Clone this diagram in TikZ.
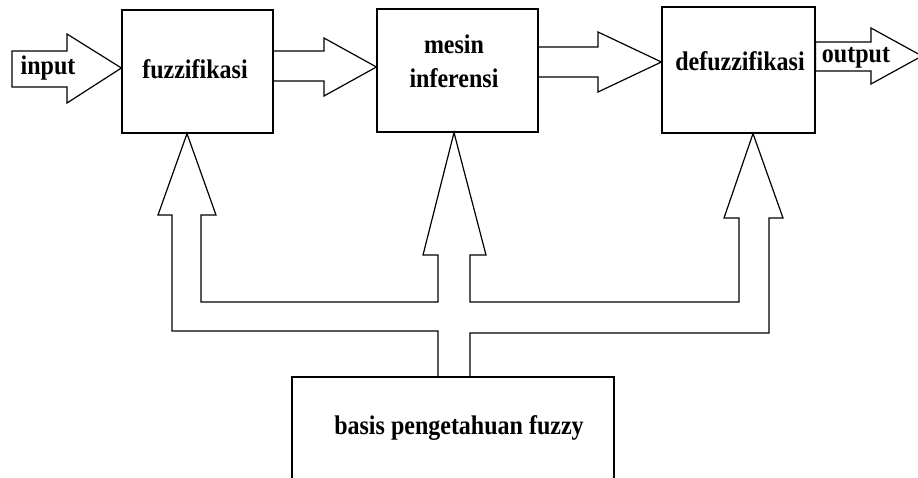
\documentclass[tikz,border=0pt]{standalone}
\usepackage{fontspec}
\usepackage{graphicx}
\setmainfont{Liberation Serif}
\newcommand{\tinggi}[1]{\scalebox{1}[1.12]{#1}}
\begin{document}
\begin{tikzpicture}[x=1pt,y=-1pt,
    blok/.style={draw, line width=1.2pt, inner sep=0pt, fill=white},
    panah/.style={draw, line width=1.2pt, line join=miter},
    teks/.style={font=\fontsize{24}{30}\selectfont\bfseries, inner sep=0pt, align=center}]
    \useasboundingbox (0,0) rectangle (918,477);
    % kotak proses
    \node[blok, minimum width=151pt, minimum height=123pt] (fuzz) at (197.5,71.5) {};
    \node[blok, minimum width=161pt, minimum height=123pt] (mesin) at (457.5,70.5) {};
    \node[blok, minimum width=153pt, minimum height=126pt] (defuzz) at (738.5,70) {};
    \node[blok, minimum width=322pt, minimum height=150pt] (basis) at (453,452) {};
    % tulisan
    \node[teks] (tfuzz) at (195,69) {\tinggi{fuzzifikasi}};
    \node[teks] (tmesin) at (454,64) {\tinggi{\begin{tabular}{@{}c@{}}mesin\\inferensi\end{tabular}}};
    \node[teks] (tdefuzz) at (740,61) {\tinggi{defuzzifikasi}};
    \node[teks] (tbasis) at (459,428) {\tinggi{basis pengetahuan fuzzy}};
    % panah input dan output
    \draw[panah] (12,51) -- (67,51) -- (67,34) -- (fuzz.west |- 0,68) -- (67,103) -- (67,87) -- (12,87) -- cycle;
    \node[teks] (tinput) at (48,68) {\tinggi{input}};
    \draw[panah] (defuzz.east |- 0,42) -- (871,42) -- (871,28) -- (922,56) -- (871,84) -- (871,71) -- (defuzz.east |- 0,71) -- cycle;
    \node[teks] (toutput) at (856,58) {\tinggi{output}};
    % panah antar kotak
    \draw[panah] (fuzz.east |- 0,51) -- (324,51) -- (324,38) -- (mesin.west |- 0,67) -- (324,96) -- (324,81) -- (fuzz.east |- 0,81);
    \draw[panah] (mesin.east |- 0,47) -- (598,47) -- (598,32) -- (defuzz.west |- 0,62) -- (598,92) -- (598,77) -- (mesin.east |- 0,77);
    % panah dari basis pengetahuan
    \draw[panah] (basis.north -| 438,0) -- (438,331) -- (172,331) -- (172,215) -- (158,215) -- (fuzz.south -| 187,0)
        -- (216,215) -- (201,215) -- (201,302) -- (438,302) -- (438,255) -- (423,255) -- (mesin.south -| 454,0)
        -- (486,255) -- (470,255) -- (470,302) -- (739,302) -- (739,218) -- (724,218) -- (defuzz.south -| 753,0)
        -- (783,218) -- (769,218) -- (769,333) -- (470,333) -- (basis.north -| 470,0);
\end{tikzpicture}
\end{document}
